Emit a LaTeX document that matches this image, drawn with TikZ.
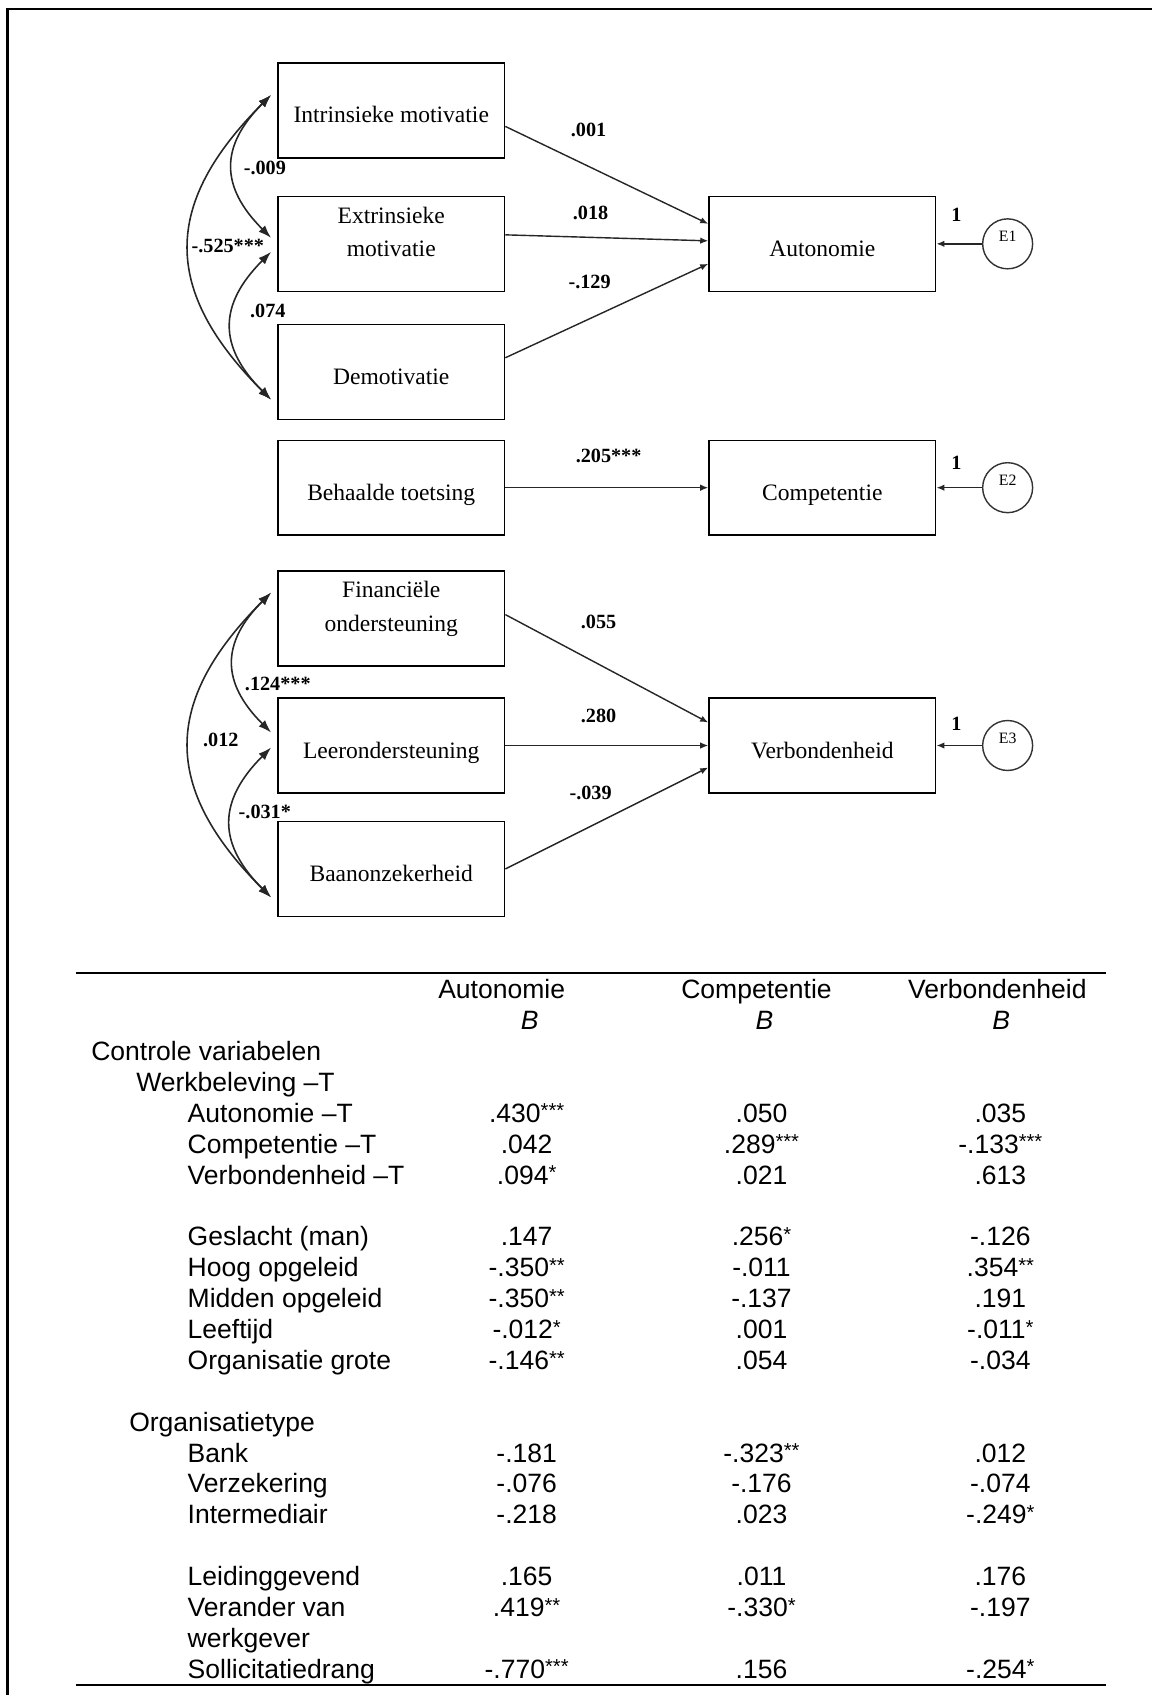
\documentclass[tikz,border=0pt]{standalone}
\usepackage{fontspec}
\setmainfont{Liberation Serif}
\setsansfont{Liberation Sans}
\usetikzlibrary{positioning,arrows.meta}
\newcommand\stars[1]{\raisebox{2.5pt}{\fontsize{11.5pt}{11.5pt}\selectfont#1}}

\begin{document}
\begin{tikzpicture}[
  frm/.style={draw=black,line width=0.8pt,minimum width=4.54cm,minimum height=1.9cm,align=center,inner sep=0pt,font=\fontsize{13.4pt}{19pt}\selectfont},
  box/.style={frm,text height=0.6cm,text depth=0.1cm},
  box2/.style={frm},
  err/.style={draw=black!80,line width=0.8pt,circle,minimum size=1cm,inner sep=0pt,text depth=0.3cm,font=\fontsize{9pt}{10pt}\selectfont},
  coef/.style={font=\bfseries\fontsize{11.5pt}{13pt}\selectfont,inner sep=1pt},
  reg/.style={draw=black!85,line width=0.8pt,-{Latex[length=1.6mm,width=1.3mm]}},
  cov/.style={draw=black!85,line width=0.9pt,>={Latex[length=2.6mm,width=1.8mm]},<->,out=225,in=135,looseness=1.3},
  tab/.style={font=\sffamily\fontsize{15.1pt}{18pt}\selectfont,inner sep=0pt},
  hrule/.style={line width=1.2pt}
]
\path[fill=white] (0,0) rectangle (23.06,-33.92);
\draw[line width=1.3pt] (0.15,-33.92) -- (0.15,-0.18) -- (23.06,-0.18);

% predictors
\node[box] (intr) at (7.83,-2.21) {Intrinsieke motivatie};
\node[box2] (extr) at (7.83,-4.88) {Extrinsieke\\motivatie\\[-5pt]\mbox{}};
\node[box] (demo) at (7.83,-7.45) {Demotivatie};
\node[box] (toets) at (7.83,-9.76) {Behaalde toetsing};
\node[box2] (fin) at (7.83,-12.38) {Financiële\\ondersteuning\\[-5pt]\mbox{}};
\node[box] (leer) at (7.83,-14.92) {Leerondersteuning};
\node[box] (baan) at (7.83,-17.39) {Baanonzekerheid};

% outcomes and errors
\node[box,right=4.06cm of extr] (auto) {Autonomie};
\node[box,right=4.06cm of toets] (comp) {Competentie};
\node[box,right=4.06cm of leer] (verb) {Verbondenheid};
\node[err,right=0.91cm of auto] (e1) {E1};
\node[err,right=0.91cm of comp] (e2) {E2};
\node[err,right=0.91cm of verb] (e3) {E3};

\draw[reg] ([yshift=-0.32cm]intr.east) -- ([yshift=0.4cm]auto.west);
\draw[reg] ([yshift=0.18cm]extr.east) -- ([yshift=0.06cm]auto.west);
\draw[reg] ([yshift=0.29cm]demo.east) -- ([yshift=-0.4cm]auto.west);
\draw[reg] (toets) -- (comp);
\draw[reg] ([yshift=0.08cm]fin.east) -- ([yshift=0.46cm]verb.west);
\draw[reg] (leer) -- (verb);
\draw[reg] (baan.east) -- ([yshift=-0.44cm]verb.west);
\draw[reg] (e1) -- (auto);
\draw[reg] (e2) -- (comp);
\draw[reg] (e3) -- (verb);

% covariances
\draw[cov] ([xshift=-0.12cm,yshift=0.31cm]intr.west) to ([xshift=-0.12cm,yshift=0.12cm]extr.west);
\draw[cov] ([xshift=-0.12cm,yshift=-0.16cm]extr.west) to ([xshift=-0.12cm,yshift=-0.55cm]demo.west);
\draw[cov] ([xshift=-0.12cm,yshift=0.31cm]intr.west) to ([xshift=-0.12cm,yshift=-0.55cm]demo.west);
\draw[cov] ([xshift=-0.12cm,yshift=0.52cm]fin.west) to ([xshift=-0.12cm,yshift=0.26cm]leer.west);
\draw[cov] ([xshift=-0.12cm,yshift=-0.04cm]leer.west) to ([xshift=-0.12cm,yshift=-0.57cm]baan.west);
\draw[cov] ([xshift=-0.12cm,yshift=0.52cm]fin.west) to ([xshift=-0.12cm,yshift=-0.57cm]baan.west);

% coefficients
\node[coef] (k1) at (11.78,-2.6) {.001};
\node[coef] (k2) at (11.82,-4.26) {.018};
\node[coef] (k3) at (11.8,-5.64) {-.129};
\node[coef] (k4) at (12.18,-9.12) {.205***};
\node[coef] (k5) at (11.98,-12.45) {.055};
\node[coef] (k6) at (11.98,-14.32) {.280};
\node[coef] (k7) at (11.82,-15.86) {-.039};
\node[coef] (f1) at (19.14,-4.3) {1};
\node[coef] (f2) at (19.14,-9.26) {1};
\node[coef] (f3) at (19.14,-14.48) {1};
\node[coef] (c1) at (5.3,-3.37) {-.009};
\node[coef] (c2) at (4.56,-4.92) {-.525***};
\node[coef] (c3) at (5.36,-6.22) {.074};
\node[coef] (c4) at (5.56,-13.68) {.124***};
\node[coef] (c5) at (4.42,-14.8) {.012};
\node[coef] (c6) at (5.3,-16.24) {-.031*};

% table
\draw[hrule] (1.52,-19.47) -- (22.14,-19.47);
\draw[hrule] (1.52,-33.72) -- (22.14,-33.72);
\node[tab,anchor=base] (hA) at (10.04,-19.99) {Autonomie};
\node[tab,anchor=base] (hB) at (15.14,-19.99) {Competentie};
\node[tab,anchor=base] (hC) at (19.96,-19.99) {Verbondenheid};
\node[tab,anchor=base] (bA) at (10.6,-20.61) {\itshape B};
\node[tab,anchor=base] (bB) at (15.3,-20.61) {\itshape B};
\node[tab,anchor=base] (bC) at (20.04,-20.61) {\itshape B};
\node[tab,anchor=base west] (ctrl) at (1.82,-21.226) {Controle variabelen};
\node[tab,anchor=base west] (werk) at (2.72,-21.844) {Werkbeleving –T};
\node[tab,anchor=base west] (orgt) at (2.58,-28.642) {Organisatietype};
\node[tab,anchor=base west] (wg) at (3.75,-32.968) {werkgever};
\foreach \k/\lab/\va/\vb/\vc in {
  4/Autonomie –T/.430\stars{***}/.050/.035,
  5/Competentie –T/.042/.289\stars{***}/-.133\stars{***},
  6/Verbondenheid –T/.094\stars{*}/.021/.613,
  8/Geslacht (man)/.147/.256\stars{*}/-.126,
  9/Hoog opgeleid/-.350\stars{**}/-.011/.354\stars{**},
  10/Midden opgeleid/-.350\stars{**}/-.137/.191,
  11/Leeftijd/-.012\stars{*}/.001/-.011\stars{*},
  12/Organisatie grote/-.146\stars{**}/.054/-.034,
  15/Bank/-.181/-.323\stars{**}/.012,
  16/Verzekering/-.076/-.176/-.074,
  17/Intermediair/-.218/.023/-.249\stars{*},
  19/Leidinggevend/.165/.011/.176,
  20/Verander van/.419\stars{**}/-.330\stars{*}/-.197,
  22/Sollicitatiedrang/-.770\stars{***}/.156/-.254\stars{*}}{
  \node[tab,anchor=base west] (row\k) at (3.75,{-19.99-0.618*\k}) {\lab};
  \node[tab,anchor=base] (a\k) at (10.54,{-19.99-0.618*\k}) {\va};
  \node[tab,anchor=base] (b\k) at (15.24,{-19.99-0.618*\k}) {\vb};
  \node[tab,anchor=base] (c\k) at (20.02,{-19.99-0.618*\k}) {\vc};
}
\end{tikzpicture}
\end{document}
